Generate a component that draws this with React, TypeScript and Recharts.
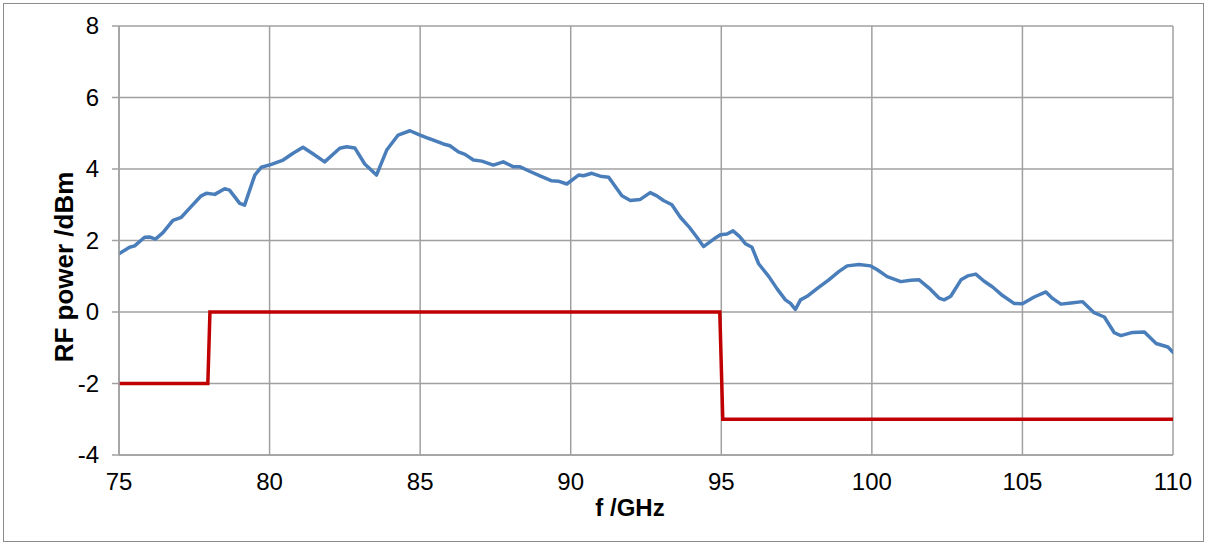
import React from 'react';
import { LineChart, Line, XAxis, YAxis, CartesianGrid } from 'recharts';

// measured RF output power (blue trace)
const freqGHz = [
  75.0, 75.35, 75.52, 75.85, 76.01, 76.21, 76.46, 76.79, 77.07, 77.34, 77.73, 77.9, 78.18, 78.51, 78.67,
  79.01, 79.17, 79.51, 79.73, 80.06, 80.45, 80.78, 81.11, 81.45, 81.83, 82.33, 82.56, 82.83, 83.16, 83.55,
  83.89, 84.27, 84.66, 84.94, 85.27, 85.44, 85.77, 85.99, 86.27, 86.49, 86.77, 87.05, 87.43, 87.76, 88.1,
  88.32, 88.65, 88.98, 89.37, 89.59, 89.87, 90.26, 90.42, 90.7, 90.98, 91.26, 91.7, 91.98, 92.31, 92.64,
  92.86, 93.08, 93.36, 93.64, 93.92, 94.19, 94.41, 94.75, 94.97, 95.19, 95.39, 95.61, 95.8, 96.02, 96.24,
  96.58, 96.86, 97.13, 97.3, 97.46, 97.63, 97.85, 98.19, 98.57, 98.9, 99.18, 99.57, 99.96, 100.18, 100.51,
  100.96, 101.29, 101.57, 101.9, 102.23, 102.4, 102.62, 102.96, 103.18, 103.45, 103.73, 104.01, 104.34,
  104.72, 105.0, 105.39, 105.78, 106.0, 106.28, 106.61, 107.0, 107.38, 107.72, 108.05, 108.27, 108.66,
  109.05, 109.44, 109.83, 110.0,
];
const powerDbm = [
  1.63, 1.81, 1.85, 2.09, 2.1, 2.04, 2.22, 2.56, 2.65, 2.9, 3.25, 3.32, 3.29, 3.45, 3.41,
  3.04, 2.99, 3.83, 4.05, 4.13, 4.25, 4.44, 4.61, 4.42, 4.2, 4.58, 4.62, 4.59, 4.14, 3.83,
  4.53, 4.95, 5.07, 4.97, 4.86, 4.81, 4.7, 4.65, 4.48, 4.41, 4.25, 4.22, 4.11, 4.2, 4.06,
  4.06, 3.93, 3.81, 3.67, 3.66, 3.58, 3.83, 3.81, 3.88, 3.8, 3.77, 3.25, 3.12, 3.15, 3.34,
  3.25, 3.12, 3.0, 2.65, 2.39, 2.09, 1.83, 2.04, 2.16, 2.18, 2.27, 2.11, 1.91, 1.81, 1.35,
  0.99, 0.64, 0.34, 0.24, 0.07, 0.34, 0.44, 0.66, 0.9, 1.13, 1.29, 1.33, 1.29, 1.18, 0.99,
  0.85, 0.89, 0.9, 0.67, 0.39, 0.34, 0.44, 0.9, 1.01, 1.06, 0.86, 0.7, 0.46,
  0.24, 0.23, 0.42, 0.56, 0.38, 0.22, 0.25, 0.29, -0.02, -0.14, -0.58, -0.66, -0.57,
  -0.56, -0.88, -0.98, -1.13,
];

// specification limit (red step line)
const limitFreq = [75, 77.95, 78.02, 94.95, 95.05, 110];
const limitDbm = [-2, -2, 0, 0, -3, -3];

const xTicks = [75, 80, 85, 90, 95, 100, 105, 110];
const yTicks = [-4, -2, 0, 2, 4, 6, 8];

const measured = freqGHz.map((f, i) => ({ f, p: powerDbm[i] }));
const limit = limitFreq.map((f, i) => ({ f, p: limitDbm[i] }));

const FONT = '"Liberation Sans", Arial, sans-serif';

const XTick = ({ x, y, payload }: any) => (
  <text x={x} y={y} dy="0.71em" textAnchor="middle" fontFamily={FONT} fontSize={24} fill="#000">
    {payload.value}
  </text>
);

const YTick = ({ x, y, payload }: any) => (
  <text x={x} y={y} dy="0.34em" textAnchor="end" fontFamily={FONT} fontSize={24} fill="#000">
    {payload.value}
  </text>
);

export default function App() {
  return (
    <div style={{ position: 'absolute', left: 0, top: 0, width: 1207, height: 545, background: '#fff' }}>
      <div
        style={{
          position: 'absolute',
          left: 3,
          top: 3,
          width: 1199,
          height: 537,
          border: '1px solid #8c8c8c',
        }}
      />
      <LineChart
        width={1207}
        height={545}
        margin={{ top: 26, right: 34, bottom: 30, left: 59 }}
        style={{ position: 'absolute', left: 0, top: 0 }}
      >
        <CartesianGrid stroke="#a0a0a0" strokeWidth={1.5} />
        <XAxis
          type="number"
          dataKey="f"
          domain={[75, 110]}
          ticks={xTicks}
          allowDataOverflow
          height={60}
          tickSize={0}
          tickMargin={18}
          tick={<XTick />}
          axisLine={{ stroke: '#a0a0a0', strokeWidth: 1.5 }}
          label={{
            content: () => (
              <text x={630} y={516} textAnchor="middle" fontFamily={FONT} fontSize={24} fontWeight="bold" fill="#000">
                f /GHz
              </text>
            ),
          }}
        />
        <YAxis
          type="number"
          dataKey="p"
          domain={[-4, 8]}
          ticks={yTicks}
          allowDataOverflow
          width={60}
          tickSize={7}
          tickMargin={13}
          tick={<YTick />}
          tickLine={{ stroke: '#a0a0a0', strokeWidth: 1.5 }}
          axisLine={{ stroke: '#a0a0a0', strokeWidth: 1.5 }}
          label={{
            content: () => (
              <text
                x={73}
                y={267}
                transform="rotate(-90, 73, 267)"
                textAnchor="middle"
                fontFamily={FONT}
                fontSize={26}
                fontWeight="bold"
                fill="#000"
              >
                RF power /dBm
              </text>
            ),
          }}
        />
        <Line
          data={limit}
          dataKey="p"
          type="linear"
          stroke="#c00000"
          strokeWidth={3.5}
          dot={false}
          isAnimationActive={false}
        />
        <Line
          data={measured}
          dataKey="p"
          type="linear"
          stroke="#4a7ebb"
          strokeWidth={3.5}
          strokeLinejoin="round"
          strokeLinecap="round"
          dot={false}
          isAnimationActive={false}
        />
      </LineChart>
    </div>
  );
}
